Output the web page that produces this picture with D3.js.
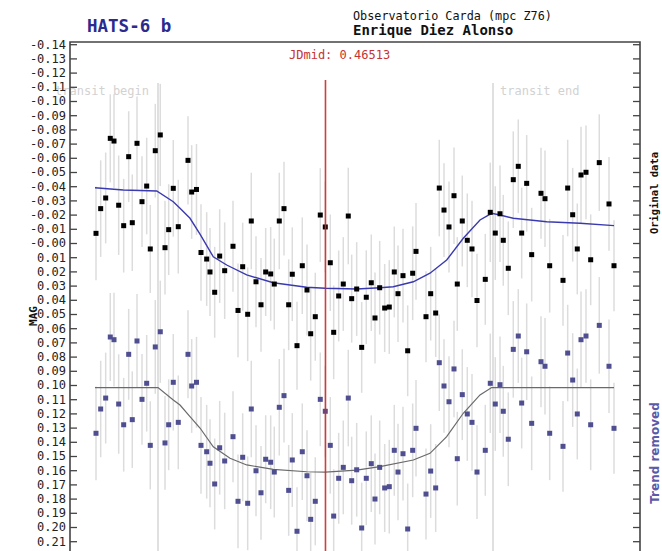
<!DOCTYPE html>
<html>
<head>
<meta charset="utf-8">
<script src="https://cdn.jsdelivr.net/npm/d3@7/dist/d3.min.js"></script>
<style>
    body { margin: 0; background: #fff; }
    svg text { font-family: "DejaVu Sans Mono", monospace; }
    .axis .domain { display: none; }
    .axis line { stroke: #444; stroke-width: 1.3; }
    .axis text { fill: #222; font-size: 12px; }
</style>
</head>
<body>
<div id="chart"></div>
<script>
// observation times (JD fraction)
var times = [
    0.40776, 0.40893, 0.41018, 0.41133, 0.41226, 0.41343, 0.41468, 0.41593, 0.41683, 0.41801,
    0.41926, 0.42043, 0.42133, 0.42258, 0.42383, 0.42501, 0.42593, 0.42708, 0.42833, 0.43076,
    0.43168, 0.43288, 0.43401, 0.43543, 0.43626, 0.43743, 0.43868, 0.43993, 0.44201, 0.44326,
    0.44443, 0.44568, 0.44658, 0.44776, 0.44901, 0.45018, 0.45143, 0.45233, 0.45358, 0.45476,
    0.45593, 0.45683, 0.45801, 0.45933, 0.46051, 0.46143, 0.46258, 0.46383, 0.46508, 0.46633,
    0.46718, 0.46843, 0.46958, 0.47083, 0.47168, 0.47293, 0.47418, 0.47533, 0.47658, 0.47751,
    0.47868, 0.47993, 0.48108, 0.48233, 0.48326, 0.48451, 0.48568, 0.48693, 0.48776, 0.49026,
    0.49143, 0.49268, 0.49358, 0.49476, 0.49601, 0.49726, 0.49808, 0.49933, 0.50058, 0.50176,
    0.50301, 0.50508, 0.50633, 0.50758, 0.50876, 0.50958, 0.51083, 0.51208, 0.51333, 0.51418,
    0.51543, 0.51668, 0.51901, 0.52001, 0.52118, 0.52451, 0.52568, 0.52693, 0.52808, 0.52901,
    0.53026, 0.53143, 0.53358, 0.53601, 0.53726
];

// original data (MAG)
var magOriginal = [
    -0.0068, -0.0242, -0.0317, -0.0737, -0.0718, -0.0266, -0.0122, -0.0608, -0.0143, -0.0702,
    -0.0291, -0.0401, 0.0042, -0.0650, -0.0761, 0.0033, -0.0094, -0.0385, -0.0115, -0.0582,
    -0.0359, -0.0377, 0.0067, 0.0113, 0.0204, 0.0347, 0.0092, 0.0195, 0.0023, 0.0475,
    0.0167, 0.0502, -0.0155, 0.0273, 0.0435, 0.0204, 0.0218, 0.0289, -0.0155, -0.0242,
    0.0435, 0.0220, 0.0723, 0.0160, 0.0331, 0.0639, 0.0519, -0.0197, -0.0113, 0.0139,
    0.0629, 0.0373, 0.0289, -0.0190, 0.0392, 0.0324, 0.0735, 0.0382, 0.0280, 0.0528,
    0.0315, 0.0458, 0.0451, 0.0204, 0.0357, 0.0230, 0.0759, 0.0213, 0.0059, 0.0519,
    0.0357, 0.0493, -0.0387, -0.0232, -0.0113, -0.0333, 0.0289, -0.0155, -0.0019, 0.0042,
    0.0405, 0.0256, -0.0216, -0.0070, -0.0206, -0.0019, 0.0178, -0.0446, -0.0540, -0.0070,
    -0.0420, 0.0082, -0.0350, -0.0312, 0.0160, 0.0263, -0.0387, -0.0199, 0.0042, -0.0479,
    -0.0498, 0.0118, -0.0566, -0.0275, 0.0160
];

// trend removed (MAG, shifted)
var magDetrended = [
    0.1340, 0.1169, 0.1092, 0.0662, 0.0681, 0.1134, 0.1280, 0.0784, 0.1244, 0.0690,
    0.1101, 0.0988, 0.1425, 0.0732, 0.0625, 0.1408, 0.1280, 0.0981, 0.1263, 0.0784,
    0.1007, 0.0981, 0.1425, 0.1470, 0.1551, 0.1697, 0.1442, 0.1535, 0.1364, 0.1819,
    0.1509, 0.1833, 0.1169, 0.1604, 0.1759, 0.1523, 0.1544, 0.1613, 0.1157, 0.1075,
    0.1742, 0.1528, 0.2030, 0.1470, 0.1639, 0.1946, 0.1819, 0.1101, 0.1185, 0.1425,
    0.1923, 0.1657, 0.1580, 0.1092, 0.1674, 0.1597, 0.2007, 0.1657, 0.1554, 0.1803,
    0.1580, 0.1725, 0.1716, 0.1460, 0.1613, 0.1484, 0.2014, 0.1460, 0.1305, 0.1768,
    0.1606, 0.1725, 0.0843, 0.1007, 0.1118, 0.0887, 0.1519, 0.1068, 0.1204, 0.1263,
    0.1613, 0.1460, 0.0988, 0.1134, 0.0998, 0.1185, 0.1382, 0.0749, 0.0655, 0.1127,
    0.0766, 0.1270, 0.0836, 0.0868, 0.1340, 0.1432, 0.0775, 0.0965, 0.1204, 0.0681,
    0.0655, 0.1280, 0.0580, 0.0868, 0.1305
];

// error bars (MAG)
var magError = [
    0.033, 0.034, 0.032, 0.031, 0.033, 0.035, 0.033, 0.032, 0.034, 0.033,
    0.032, 0.034, 0.031, 0.033, 0.036, 0.033, 0.032, 0.034, 0.033, 0.031,
    0.033, 0.032, 0.034, 0.033, 0.031, 0.032, 0.033, 0.034, 0.032, 0.033,
    0.031, 0.033, 0.034, 0.032, 0.033, 0.031, 0.033, 0.032, 0.034, 0.033,
    0.032, 0.033, 0.031, 0.034, 0.032, 0.033, 0.031, 0.033, 0.032, 0.034,
    0.033, 0.032, 0.033, 0.034, 0.031, 0.033, 0.032, 0.033, 0.034, 0.032,
    0.033, 0.031, 0.033, 0.032, 0.034, 0.033, 0.032, 0.033, 0.034, 0.032,
    0.033, 0.031, 0.034, 0.033, 0.032, 0.034, 0.033, 0.032, 0.033, 0.034,
    0.033, 0.032, 0.035, 0.033, 0.034, 0.032, 0.033, 0.034, 0.033, 0.032,
    0.034, 0.033, 0.032, 0.034, 0.033, 0.032, 0.034, 0.033, 0.032, 0.034,
    0.033, 0.032, 0.034, 0.033, 0.032
];

// fitted model on the original data
var fitTimes = [
    0.40751, 0.41458, 0.42293, 0.42708, 0.42876, 0.43126, 0.43376, 0.43708, 0.44043, 0.44543,
    0.45208, 0.46043, 0.46508, 0.47293, 0.47876, 0.48208, 0.48708, 0.49126, 0.49543, 0.49958,
    0.50376, 0.50668, 0.50876, 0.51208, 0.52043, 0.52876, 0.53726
];
var fitOriginal = [
    -0.0389, -0.0373, -0.0366, -0.0291, -0.0244, -0.0174, -0.0063, 0.0097, 0.0155, 0.0225,
    0.0280, 0.0312, 0.0319, 0.0324, 0.0315, 0.0308, 0.0273, 0.0213, 0.0120, -0.0033,
    -0.0162, -0.0209, -0.0197, -0.0174, -0.0150, -0.0139, -0.0122
];

// transit model on the trend removed data
var modelTimes = [
    0.40751, 0.42326, 0.42708, 0.42876, 0.43126, 0.43376, 0.43708, 0.44126, 0.44543, 0.45208,
    0.46043, 0.46508, 0.47293, 0.47876, 0.48708, 0.49126, 0.49543, 0.49958, 0.50376, 0.50668,
    0.53726
];
var modelDetrended = [
    0.1018, 0.1018, 0.1106, 0.1141, 0.1223, 0.1303, 0.1435, 0.1516, 0.1563, 0.1594,
    0.1611, 0.1613, 0.1599, 0.1575, 0.1528, 0.1481, 0.1364, 0.1199, 0.1070, 0.1018,
    0.1018
];

var yTicks = d3.range(-14, 22).map(function(i){ return i / 100; });
var jdMid = 0.46513;
var transitBegin = 0.42326;
var transitEnd = 0.50701;

var width = 662;
var height = 551;

var svg = d3.select('#chart').append('svg')
    .attr('width', width)
    .attr('height', height);

var x = d3.scaleLinear().domain([0.40126, 0.54376]).range([70, 640]);
var y = d3.scaleLinear().domain([-0.14, 0.21]).range([44.2, 541.2]);

//-----headers-------
svg.append('text').text('HATS-6 b')
    .attr('x', 87).attr('y', 32)
    .style('font-size', '17.5px').style('font-weight', 'bold')
    .attr('fill', '#2b2b8e');

svg.append('text').text('Observatorio Carda (mpc Z76)')
    .attr('x', 353).attr('y', 20)
    .style('font-size', '11.8px').attr('fill', '#111');

svg.append('text').text('Enrique Diez Alonso')
    .attr('x', 353).attr('y', 35)
    .style('font-size', '14px').style('font-weight', 'bold').attr('fill', '#111');

//-----transit markers-------
[transitBegin, transitEnd].forEach(function(t){
    svg.append('line')
        .attr('x1', x(t)).attr('x2', x(t))
        .attr('y1', 83).attr('y2', height)
        .attr('stroke', '#d6d6d6').attr('stroke-width', 1.5);
});

svg.append('text').text('transit begin')
    .attr('x', x(transitBegin) - 9).attr('y', 95)
    .attr('text-anchor', 'end')
    .style('font-size', '12px').attr('fill', '#d2d2d2');

svg.append('text').text('transit end')
    .attr('x', x(transitEnd) + 7).attr('y', 95)
    .style('font-size', '12px').attr('fill', '#d2d2d2');

//-----error bars-------
var errGroup = svg.append('g');
[magOriginal, magDetrended].forEach(function(series){
    errGroup.selectAll(null)
        .data(series)
        .enter().append('line')
            .attr('x1', function(d, i){ return x(times[i]) })
            .attr('x2', function(d, i){ return x(times[i]) })
            .attr('y1', function(d, i){ return y(d - magError[i]) })
            .attr('y2', function(d, i){ return y(d + magError[i]) })
            .attr('stroke', '#dcdcdc')
            .attr('stroke-width', 1.5);
});

//-----model lines-------
var line = d3.line()
    .x(function(d){ return x(d[0]) })
    .y(function(d){ return y(d[1]) });

svg.append('path')
    .datum(fitTimes.map(function(t, i){ return [t, fitOriginal[i]] }))
    .attr('d', line)
    .attr('fill', 'none').attr('stroke', '#3a3ab0').attr('stroke-width', 1.4);

svg.append('path')
    .datum(modelTimes.map(function(t, i){ return [t, modelDetrended[i]] }))
    .attr('d', line)
    .attr('fill', 'none').attr('stroke', '#6a6a6a').attr('stroke-width', 1.2);

//-----points-------
var s = 5;
svg.append('g').selectAll('rect')
    .data(magOriginal)
    .enter().append('rect')
        .attr('x', function(d, i){ return x(times[i]) - s / 2 })
        .attr('y', function(d){ return y(d) - s / 2 })
        .attr('width', s).attr('height', s)
        .attr('fill', '#000');

svg.append('g').selectAll('rect')
    .data(magDetrended)
    .enter().append('rect')
        .attr('x', function(d, i){ return x(times[i]) - s / 2 })
        .attr('y', function(d){ return y(d) - s / 2 })
        .attr('width', s).attr('height', s)
        .attr('fill', '#4e4e90');

//-----JD mid-------
svg.append('line')
    .attr('x1', x(jdMid)).attr('x2', x(jdMid))
    .attr('y1', 80).attr('y2', height)
    .attr('stroke', '#cc2a2a').attr('stroke-width', 1.6).attr('opacity', 0.9);

svg.append('text').text('JDmid: ' + jdMid)
    .attr('x', 289).attr('y', 59)
    .style('font-size', '12px').attr('fill', '#c43434');

//-----axes-------
var yAxis = d3.axisLeft(y)
    .tickValues(yTicks)
    .tickSizeInner(-7)
    .tickSizeOuter(0)
    .tickPadding(4)
    .tickFormat(function(d){ return (d <= 0 ? '-' : '') + Math.abs(d).toFixed(2) });

svg.append('g').attr('class', 'axis y')
    .attr('transform', 'translate(70,0)')
    .call(yAxis);

var yAxisRight = d3.axisRight(y)
    .tickValues(yTicks)
    .tickSizeInner(-7)
    .tickSizeOuter(0)
    .tickFormat('');

svg.append('g').attr('class', 'axis yr')
    .attr('transform', 'translate(640,0)')
    .call(yAxisRight);

// frame
svg.append('path')
    .attr('d', 'M70,' + height + 'V42H640V' + height)
    .attr('fill', 'none').attr('stroke', '#444').attr('stroke-width', 1.6);

svg.append('text').text('MAG')
    .attr('transform', 'translate(37,316) rotate(-90)')
    .attr('text-anchor', 'middle')
    .style('font-size', '11px').style('font-weight', 'bold').attr('fill', '#111');

//-----right labels-------
svg.append('text').text('Original data')
    .attr('transform', 'translate(658,193) rotate(-90)')
    .attr('text-anchor', 'middle')
    .style('font-size', '10.5px').style('font-weight', 'bold').attr('fill', '#111');

svg.append('text').text('Trend removed')
    .attr('transform', 'translate(659,453) rotate(-90)')
    .attr('text-anchor', 'middle')
    .style('font-family', '"DejaVu Sans", sans-serif')
    .style('font-size', '12px').style('font-weight', 'bold').attr('fill', '#5a5aa8');
</script>
</body>
</html>
